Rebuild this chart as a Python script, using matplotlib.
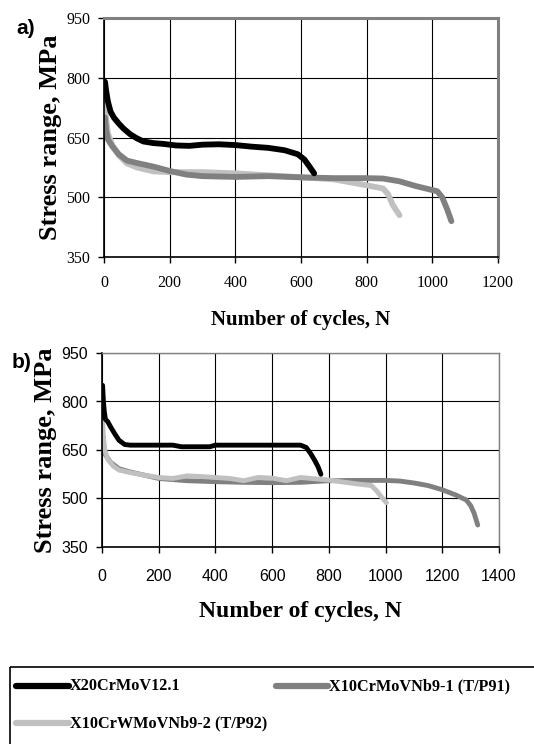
import matplotlib.pyplot as plt

# panel a) data
a_x20_n = [3, 6, 12, 20, 30, 45, 60, 80, 100, 120, 150, 180, 220, 260, 300, 350, 400, 450, 500, 550, 590, 610, 625, 640]
a_x20_s = [790, 770, 740, 715, 700, 685, 672, 658, 648, 640, 636, 634, 630, 629, 632, 633, 631, 627, 624, 618, 608, 595, 578, 560]
a_p91_n = [3, 6, 12, 25, 45, 70, 100, 150, 200, 250, 300, 400, 500, 600, 700, 800, 850, 900, 950, 990, 1015, 1030, 1045, 1058]
a_p91_s = [700, 670, 645, 628, 608, 592, 586, 577, 566, 557, 553, 551, 553, 550, 548, 548, 547, 540, 528, 520, 515, 500, 470, 440]
a_p92_n = [3, 6, 12, 25, 45, 70, 100, 150, 200, 300, 400, 500, 600, 700, 800, 850, 865, 880, 900]
a_p92_s = [740, 700, 660, 632, 605, 585, 575, 565, 563, 563, 560, 555, 550, 545, 530, 522, 508, 480, 455]

# panel b) data
b_x20_n = [2, 5, 8, 12, 20, 30, 45, 60, 80, 100, 250, 280, 380, 400, 700, 720, 735, 750, 762, 772]
b_x20_s = [850, 800, 770, 745, 738, 722, 700, 680, 667, 665, 665, 660, 660, 665, 665, 658, 640, 618, 598, 575]
b_p91_n = [2, 6, 12, 30, 60, 100, 150, 200, 300, 400, 500, 600, 700, 800, 900, 1000, 1050, 1100, 1150, 1200, 1250, 1285, 1300, 1312, 1325]
b_p91_s = [700, 660, 635, 612, 592, 582, 572, 562, 555, 552, 550, 549, 550, 555, 556, 556, 554, 548, 540, 527, 510, 495, 478, 455, 418]
b_p92_n = [2, 5, 10, 20, 40, 60, 100, 150, 200, 250, 300, 350, 400, 450, 500, 550, 600, 650, 700, 800, 900, 950, 970, 985, 1003]
b_p92_s = [740, 690, 650, 622, 600, 588, 580, 572, 565, 562, 570, 568, 565, 562, 555, 565, 563, 555, 565, 557, 545, 540, 522, 505, 487]

labels = ["X20CrMoV12.1", "X10CrMoVNb9-1 (T/P91)", "X10CrWMoVNb9-2 (T/P92)"]
colors = ["black", "#808080", "#c0c0c0"]

serif = "Liberation Serif"
sans = "Liberation Sans"

fig = plt.figure(figsize=(5.34, 7.44), dpi=100)


def style_axes(ax, xmax, tickfont, edge_lw, xfs, xpad, tpad):
    ax.set_xlim(0, xmax)
    ax.set_ylim(350, 950)
    ax.set_xticks(range(0, xmax + 1, 200))
    ax.set_yticks([350, 500, 650, 800, 950])
    ax.grid(True, color="black", linewidth=0.8)
    ax.set_axisbelow(True)
    for s in ["left", "bottom"]:
        ax.spines[s].set_color("black")
        ax.spines[s].set_linewidth(1.2)
    for s in ["top", "right"]:
        ax.spines[s].set_color("#808080")
        ax.spines[s].set_linewidth(edge_lw)
    ax.tick_params(direction="out", length=4, width=1, pad=6)
    ax.tick_params(axis="x", pad=tpad)
    for t in ax.get_xticklabels() + ax.get_yticklabels():
        t.set_fontfamily(tickfont)
        t.set_fontsize(11.5)
    ax.set_xlabel("Number of cycles, N", fontfamily=serif, fontweight="bold",
                  fontsize=xfs, labelpad=xpad)
    ax.set_ylabel("Stress range, MPa", fontfamily=serif, fontweight="bold",
                  fontsize=19, labelpad=3)


# panel a
ax1 = fig.add_axes([104 / 534, 1 - 257 / 744, 394 / 534, 239 / 744])
lw = 4.2
ax1.plot(a_p92_n, a_p92_s, color=colors[2], lw=lw, solid_capstyle="round")
ax1.plot(a_p91_n, a_p91_s, color=colors[1], lw=lw, solid_capstyle="round")
ax1.plot(a_x20_n, a_x20_s, color=colors[0], lw=lw, solid_capstyle="round")
style_axes(ax1, 1200, serif, 2.2, 15, 14, 9)
fig.text(16 / 534, 1 - 29 / 744, "a)", fontfamily=sans, fontweight="bold",
         fontsize=15, va="center")

# panel b
ax2 = fig.add_axes([102 / 534, 1 - 547 / 744, 397 / 534, 194 / 744])
lw = 3.5
ax2.plot(b_p91_n, b_p91_s, color=colors[1], lw=lw, solid_capstyle="round")
ax2.plot(b_p92_n, b_p92_s, color=colors[2], lw=lw, solid_capstyle="round")
ax2.plot(b_x20_n, b_x20_s, color=colors[0], lw=lw, solid_capstyle="round")
style_axes(ax2, 1400, sans, 1.0, 17, 12, 12)
fig.text(12 / 534, 1 - 362 / 744, "b)", fontfamily=sans, fontweight="bold",
         fontsize=15, va="center")

# legend box
leg = fig.add_axes([10 / 534, 0, 1 - 10 / 534 + 0.01, 1 - 667 / 744])
leg.set_xlim(0, 534 - 10)
leg.set_ylim(744 - 667, 0)
leg.axis("off")
leg.add_patch(plt.Rectangle((0, 0), 540, 100, fill=False, edgecolor="black",
                            linewidth=1.2, clip_on=False))
entries = [(6, 19, 0), (263, 19, 1), (6, 56, 2)]
for x0, y0, i in entries:
    leg.plot([x0, x0 + 52], [y0, y0], color=colors[i], lw=4.5,
             solid_capstyle="round")
    leg.text(x0 + 53, y0, labels[i], fontfamily=serif, fontweight="bold",
             fontsize=11.7, va="center", ha="left")

fig.savefig("out.png", dpi=100)
